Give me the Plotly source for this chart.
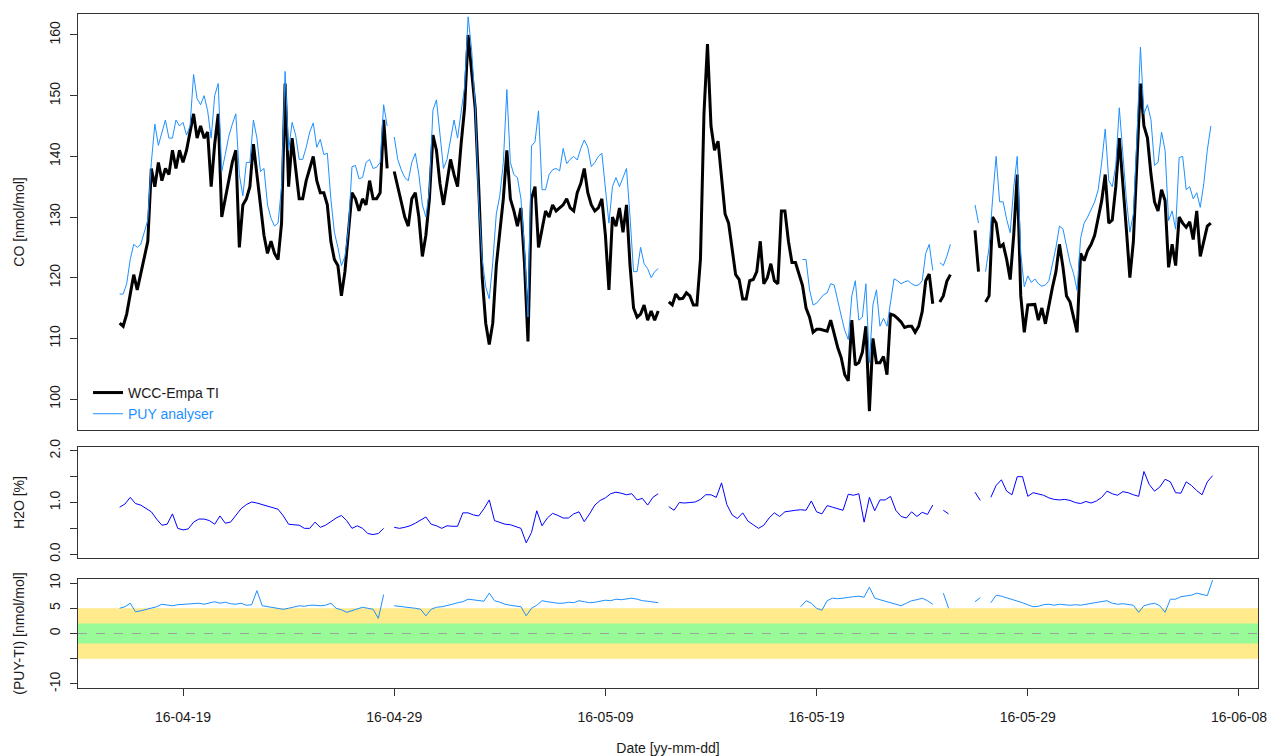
import pandas as pd
import plotly.graph_objects as go

# ---------------- data ----------------
series_start = "2016-04-16 00:00"

# CO, 4-hourly samples [nmol/mol]
co_wcc_ti = [
    112.5, 112, 114, 117.5, 120.5, 118,          # 04-16
    120.5, 123.5, 126, 138, 135, 139,            # 04-17
    136, 138, 137, 141, 138, 141,                # 04-18
    139, 141, 144, 147, 143, 145,                # 04-19
    143, 144, 135, 142, 147, 130,                # 04-20
    133, 136, 139, 141, 125, 132,                # 04-21
    133, 135, 142, 137, 132, 127,                # 04-22
    124, 126, 124, 123, 129, 152,                # 04-23
    135, 143, 138, 133, 133, 136,                # 04-24
    138, 140, 136, 134, 134, 132,                # 04-25
    126, 123, 122, 117, 121, 128,                # 04-26
    134, 133, 131, 133, 132, 136,                # 04-27
    133, 133, 134, 146, 138, None,               # 04-28
    137.5, 135, 132, 130, 128.5, 133,            # 04-29
    134, 130, 123.5, 127, 133, 143.5,            # 04-30
    141, 135.5, 132, 136, 139.5, 137,            # 05-01
    135, 142, 148, 160, 154, 148,                # 05-02
    135, 120, 112.5, 109, 112.5, 122,            # 05-03
    127.5, 133, 141, 133, 131, 128.5,            # 05-04
    131.5, 122.5, 109.5, 133, 135, 125,          # 05-05
    128, 131, 130, 132, 131, 131.5,              # 05-06
    132, 133, 131.5, 131, 134, 135.5,            # 05-07
    138, 134, 132, 131, 131.5, 133,              # 05-08
    127, 118, 130, 128.5, 131.5, 127.5,          # 05-09
    132, 122, 115, 113.5, 114, 115.5,            # 05-10
    113, 114.5, 113, 114.5, None, None,          # 05-11
    116, 115.5, 117.3, 116.5, 116.6, 117.5,      # 05-12
    117, 115.5, 115.5, 123, 147, 158.5,          # 05-13
    145, 141, 142.5, 136, 130.5, 129,            # 05-14
    125, 120.5, 119.7, 116.5, 116.5, 119.5,      # 05-15
    119.7, 121, 126, 119, 120, 122.3,            # 05-16
    119.5, 119, 131, 131, 126, 122.5,            # 05-17
    122.5, 120.7, 118.7, 115, 113.5, 111,        # 05-18
    111.5, 111.5, 111.3, 111.2, 113, 110.7,      # 05-19
    108.5, 106.8, 104, 103, 113, 105.6,          # 05-20
    106, 107.7, 112, 98, 110, 106,               # 05-21
    106, 107, 104, 114, 113.8, 113.3,            # 05-22
    112.7, 111.8, 112, 112, 111, 112,            # 05-23
    114.4, 119.5, 120.6, 115.7, None, 116,       # 05-24
    117, 119.4, 120.5, None, None, None,         # 05-25
    None, None, None, 127.8, 121, None,          # 05-26
    116, 117, 130, 129, 125, 125.5,              # 05-27
    123, 119.7, 127, 137, 117, 111,              # 05-28
    115.5, 115.5, 115.6, 113, 115, 112.4,        # 05-29
    115.6, 118.4, 121, 125.5, 121.7, 117,        # 05-30
    116, 113.5, 111, 124, 122.8, 124.5,          # 05-31
    125.5, 127, 130, 132.7, 137, 129,            # 06-01
    129.5, 135, 143, 136, 128, 120,              # 06-02
    126, 139, 152, 145, 143, 137,                # 06-03
    132.5, 131, 134.5, 132.7, 121.7, 125.5,      # 06-04
    122, 130, 129, 128.3, 129.2, 126.3,          # 06-05
    131, 123.5, 126.3, 128.5, 129,               # 06-06
]

co_puy = [
    117.3, 117.3, 119, 123, 125.5, 125,          # 04-16
    125.5, 127.5, 129.5, 139, 145.3, 141.8,      # 04-17
    144, 146, 143, 143, 146, 145,                # 04-18
    145.6, 143.5, 145, 153.5, 149.5, 148.5,      # 04-19
    150, 147.5, 143, 150, 152, 137.5,            # 04-20
    140.3, 143.3, 145.3, 147, 137, 133.5,        # 04-21
    139, 139, 146, 143, 137.5, 138,              # 04-22
    132, 129.8, 128.5, 129, 135, 154,            # 04-23
    141, 145.6, 143.5, 139.5, 139.5, 141.5,      # 04-24
    144, 145.5, 141.5, 142.8, 140.3, 140.5,      # 04-25
    133, 127.5, 125, 122, 123.5, 128,            # 04-26
    138.3, 138.5, 136.3, 136.5, 139, 139.5,      # 04-27
    138, 138.2, 139, 148.5, 145, None,           # 04-28
    143.2, 139.5, 137.8, 136.5, 136, 139,        # 04-29
    140.5, 137, 132, 130, 134.5, 147.6,          # 04-30
    149.3, 143, 138, 139.5, 142.5, 146,          # 05-01
    143, 147, 151.5, 163, 157.5, 148.5,          # 05-02
    132.5, 123, 118.5, 116.5, 122.5, 130.5,      # 05-03
    133.5, 139, 151, 139, 137, 136.5,            # 05-04
    133, 125, 113.5, 141.7, 142.4, 147.5,        # 05-05
    134.5, 134.5, 137, 137.8, 138, 137.6,        # 05-06
    141.3, 138.8, 139.5, 140, 139.4, 141.3,      # 05-07
    142.7, 141.5, 138.3, 139, 140, 140.5,        # 05-08
    135, 129, 135, 136.5, 135, 136.5,            # 05-09
    138, 130, 121, 121, 125, 122.3,              # 05-10
    121.5, 120, 121, 121.5, None, None,          # 05-11
    None, None, None, None, None, None,          # 05-12
    None, None, None, None, None, None,          # 05-13
    None, None, None, None, None, None,          # 05-14
    None, None, None, None, None, None,          # 05-15
    None, None, None, None, None, None,          # 05-16
    None, None, None, None, None, None,          # 05-17
    None, None, 123, 123, 118, 115.5,            # 05-18
    115.8, 116.5, 117.2, 117.5, 119, 118.8,      # 05-19
    116, 113.7, 111.3, 109.8, 117, 119.5,        # 05-20
    113, 113.5, 119, 106, 115.5, 118,            # 05-21
    112, 113.3, 112, 116, 119.8, 119.5,          # 05-22
    119, 119.3, 119.5, 119, 118.7, 118.8,        # 05-23
    119.5, 124, 125.5, 121.2, None, 122.5,       # 05-24
    122, 123.5, 125.5, None, None, None,         # 05-25
    None, None, None, 132, 129, None,            # 05-26
    121, 125, 133, 140, 132.5, 132.5,            # 05-27
    129.6, 127.4, 134.9, 140, 124, 118.5,        # 05-28
    120.3, 119.2, 119.8, 119, 118.6, 118.8,      # 05-29
    119.5, 122.3, 125, 128.5, 128, 125.2,        # 05-30
    122.5, 120.7, 117.9, 126.5, 129, 130,        # 05-31
    131.4, 132.5, 134.5, 139, 144.5, 136,        # 06-01
    135, 138.5, 148, 140, 133, 127.5,            # 06-02
    130.5, 143, 158, 147, 148.5, 146,            # 06-03
    138.5, 139, 144, 141, 129.4, 131,            # 06-04
    128, 139.8, 140, 134.5, 135, 133,            # 06-05
    134, 131.6, 135.5, 141, 145,                 # 06-06
]

# H2O, 6-hourly samples [%]
h2o_pct = [
    0.91, 0.97, 1.10, 0.98,   # 04-16
    0.95, 0.89, 0.82, 0.68,   # 04-17
    0.56, 0.58, 0.78, 0.50,   # 04-18
    0.47, 0.49, 0.62, 0.68,   # 04-19
    0.68, 0.65, 0.58, 0.74,   # 04-20
    0.60, 0.62, 0.74, 0.88,   # 04-21
    0.96, 1.01, 0.99, 0.96,   # 04-22
    0.94, 0.91, 0.87, 0.74,   # 04-23
    0.58, 0.57, 0.56, 0.50,   # 04-24
    0.50, 0.62, 0.52, 0.56,   # 04-25
    0.63, 0.70, 0.75, 0.65,   # 04-26
    0.50, 0.55, 0.50, 0.40,   # 04-27
    0.38, 0.40, 0.50, None,   # 04-28
    0.52, 0.50, 0.52, 0.55,   # 04-29
    0.60, 0.66, 0.72, 0.58,   # 04-30
    0.55, 0.50, 0.55, 0.54,   # 05-01
    0.54, 0.80, 0.80, 0.76,   # 05-02
    0.74, 0.88, 1.05, 0.65,   # 05-03
    0.61, 0.58, 0.57, 0.54,   # 05-04
    0.50, 0.22, 0.42, 0.84,   # 05-05
    0.55, 0.70, 0.79, 0.75,   # 05-06
    0.70, 0.70, 0.78, 0.82,   # 05-07
    0.63, 0.78, 0.95, 1.04,   # 05-08
    1.09, 1.17, 1.20, 1.18,   # 05-09
    1.15, 1.17, 1.05, 1.08,   # 05-10
    0.95, 1.10, 1.17, None,   # 05-11
    0.92, 0.85, 1.00, 0.99,   # 05-12
    1.00, 1.01, 1.06, 1.15,   # 05-13
    1.15, 1.10, 1.38, 0.96,   # 05-14
    0.76, 0.69, 0.80, 0.64,   # 05-15
    0.57, 0.50, 0.56, 0.70,   # 05-16
    0.80, 0.73, 0.82, 0.84,   # 05-17
    0.85, 0.86, 0.85, 1.03,   # 05-18
    0.82, 0.78, 0.94, 0.91,   # 05-19
    0.88, 0.85, 1.16, 1.14,   # 05-20
    1.17, 0.62, 1.10, 0.84,   # 05-21
    1.05, 1.05, 1.12, 0.85,   # 05-22
    0.73, 0.70, 0.82, 0.73,   # 05-23
    0.81, 0.77, 0.95, None,   # 05-24
    0.85, 0.78, None, None,   # 05-25
    None, None, 1.20, 1.04,   # 05-26
    None, 1.10, 1.33, 1.44,   # 05-27
    1.22, 1.15, 1.50, 1.50,   # 05-28
    1.12, 1.19, 1.16, 1.14,   # 05-29
    1.09, 1.06, 1.05, 1.06,   # 05-30
    1.04, 1.00, 0.98, 1.02,   # 05-31
    0.99, 1.03, 1.10, 1.22,   # 06-01
    1.17, 1.14, 1.21, 1.19,   # 06-02
    1.15, 1.12, 1.60, 1.35,   # 06-03
    1.22, 1.30, 1.45, 1.40,   # 06-04
    1.19, 1.18, 1.40, 1.33,   # 06-05
    1.23, 1.15, 1.40, 1.52,   # 06-06
]

# PUY - TI difference, 6-hourly samples [nmol/mol]
diff_puy_ti = [
    5.0, 5.3, 6.0, 4.3,   # 04-16
    4.5, 4.8, 5.0, 5.3,   # 04-17
    5.8, 5.6, 5.5, 5.7,   # 04-18
    5.8, 5.8, 5.9, 6.0,   # 04-19
    5.8, 6.0, 6.3, 6.0,   # 04-20
    6.2, 5.9, 5.8, 6.0,   # 04-21
    5.6, 5.7, 8.5, 5.5,   # 04-22
    5.3, 5.2, 5.0, 4.8,   # 04-23
    5.0, 5.3, 5.5, 5.4,   # 04-24
    5.6, 5.6, 5.5, 5.6,   # 04-25
    6.0, 5.0, 4.7, 4.2,   # 04-26
    4.5, 4.9, 5.2, 5.0,   # 04-27
    4.8, 3.0, 7.7, None,  # 04-28
    5.5, 5.4, 5.2, 5.1,   # 04-29
    5.0, 4.8, 3.5, 4.8,   # 04-30
    5.2, 5.3, 5.5, 5.8,   # 05-01
    6.1, 6.3, 6.8, 6.7,   # 05-02
    6.5, 6.4, 8.0, 6.5,   # 05-03
    6.2, 5.8, 5.6, 5.5,   # 05-04
    5.3, 3.5, 5.0, 5.6,   # 05-05
    6.5, 6.3, 6.1, 6.0,   # 05-06
    6.0, 6.2, 6.1, 6.5,   # 05-07
    6.3, 6.1, 6.2, 6.4,   # 05-08
    6.6, 6.5, 6.8, 6.7,   # 05-09
    6.9, 7.0, 6.8, 6.5,   # 05-10
    6.4, 6.3, 6.1, None,  # 05-11
    None, None, None, None,  # 05-12
    None, None, None, None,  # 05-13
    None, None, None, None,  # 05-14
    None, None, None, None,  # 05-15
    None, None, None, None,  # 05-16
    None, None, None, None,  # 05-17
    None, 5.3, 6.5, 6.0,  # 05-18
    5.0, 4.6, 6.5, 7.0,   # 05-19
    6.9, 7.0, 7.2, 7.3,   # 05-20
    7.4, 7.2, 9.2, 7.0,   # 05-21
    6.7, 6.4, 6.1, 5.8,   # 05-22
    5.5, 6.0, 6.5, 6.7,   # 05-23
    7.0, 6.5, 5.8, None,  # 05-24
    8.0, 5.0, None, None,  # 05-25
    None, None, 6.3, 7.1,  # 05-26
    None, 6.1, 7.6, 7.4,  # 05-27
    7.1, 6.8, 6.5, 6.1,   # 05-28
    5.7, 5.3, 5.4, 5.7,   # 05-29
    5.8, 5.6, 5.8, 5.7,   # 05-30
    5.6, 5.7, 5.6, 5.8,   # 05-31
    6.0, 6.2, 6.3, 6.5,   # 06-01
    6.0, 5.8, 5.9, 5.7,   # 06-02
    5.6, 4.2, 5.5, 5.8,   # 06-03
    6.0, 5.5, 4.2, 6.8,   # 06-04
    6.8, 7.3, 7.5, 7.6,   # 06-05
    8.0, 7.8, 7.5, 10.6,  # 06-06
]

co_ticks = [100, 110, 120, 130, 140, 150, 160]
h2o_ticks = [0.0, 0.5, 1.0, 1.5, 2.0]
h2o_tick_text = ["0.0", "", "1.0", "", "2.0"]
diff_ticks = [-10, -5, 0, 5, 10]
diff_tick_text = ["-10", "", "0", "5", "10"]
band_outer = 5   # +/- limit of yellow band
band_inner = 2   # +/- limit of green band

# ---------------- figure ----------------
t4 = pd.date_range(series_start, periods=len(co_wcc_ti), freq="4h")
t6 = pd.date_range(series_start, periods=len(h2o_pct), freq="6h")

FONT = "Liberation Sans, Arial, sans-serif"
TXT = "#1a1a1a"
XRANGE = ["2016-04-14 00:40", "2016-06-08 21:36"]

fig = go.Figure()
fig.add_trace(go.Scatter(x=t4, y=co_wcc_ti, mode="lines", name="WCC-Empa TI",
                         line=dict(color="black", width=3), xaxis="x", yaxis="y"))
fig.add_trace(go.Scatter(x=t4, y=co_puy, mode="lines",
                         name="<span style='color:#1E90FF'>PUY analyser</span>",
                         line=dict(color="#1E90FF", width=1), xaxis="x", yaxis="y"))
fig.add_trace(go.Scatter(x=t6, y=h2o_pct, mode="lines", showlegend=False,
                         line=dict(color="#0000FF", width=1), xaxis="x2", yaxis="y2"))
fig.add_trace(go.Scatter(x=t6, y=diff_puy_ti, mode="lines", showlegend=False,
                         line=dict(color="#1E90FF", width=1), xaxis="x3", yaxis="y3"))

frame = dict(showline=True, linecolor="#333333", linewidth=1, mirror=True,
             showgrid=False, zeroline=False, automargin=False)
xcommon = dict(type="date", range=XRANGE, **frame)
ycommon = dict(ticks="outside", ticklen=7, tickwidth=1, tickcolor="#333333",
               tickangle=-90, ticklabelstandoff=4,
               tickfont=dict(family=FONT, size=14, color=TXT), **frame)
ytitle_font = dict(family=FONT, size=14, color=TXT)

fig.update_layout(
    width=1270, height=756,
    margin=dict(l=78, r=12, t=14, b=68, autoexpand=False),
    paper_bgcolor="white", plot_bgcolor="white",
    font=dict(family=FONT, size=14, color=TXT),
    xaxis=dict(anchor="y", showticklabels=False, ticks="", **xcommon),
    xaxis2=dict(anchor="y2", matches="x", showticklabels=False, ticks="", **xcommon),
    xaxis3=dict(anchor="y3", matches="x", ticks="outside", ticklen=7, tickwidth=1,
                tickcolor="#333333", dtick=10 * 86400000, tick0="2016-04-19",
                tickformat="%y-%m-%d", ticklabelstandoff=9,
                tickfont=dict(family=FONT, size=14, color=TXT),
                title=dict(text="Date [yy-mm-dd]", standoff=22,
                           font=dict(family=FONT, size=14, color=TXT)),
                **xcommon),
    yaxis=dict(domain=[0.3828, 1.0], range=[94.9, 163.46], tickvals=co_ticks,
               title=dict(text="CO [nmol/mol]", standoff=19, font=ytitle_font), **ycommon),
    yaxis2=dict(domain=[0.1924, 0.3580], range=[-0.08, 2.08], tickvals=h2o_ticks,
                ticktext=h2o_tick_text,
                title=dict(text="H2O [%]", standoff=19, font=ytitle_font), **ycommon),
    yaxis3=dict(domain=[0.0, 0.1617], range=[-10.8, 10.8], tickvals=diff_ticks,
                ticktext=diff_tick_text,
                title=dict(text="(PUY-TI) [nmol/mol]", standoff=19, font=ytitle_font),
                **ycommon),
    legend=dict(x=0.0085, y=0.4615, xanchor="left", yanchor="top",
                bgcolor="rgba(0,0,0,0)", borderwidth=0,
                font=dict(family=FONT, size=14, color=TXT),
                tracegroupgap=0, itemwidth=30),
    shapes=[
        dict(type="rect", xref="x3 domain", yref="y3", x0=0, x1=1,
             y0=-band_outer, y1=band_outer, fillcolor="#FFEA8C", line=dict(width=0),
             layer="below"),
        dict(type="rect", xref="x3 domain", yref="y3", x0=0, x1=1,
             y0=-band_inner, y1=band_inner, fillcolor="#98FB98", line=dict(width=0),
             layer="below"),
        dict(type="line", xref="x3 domain", yref="y3", x0=0, x1=1, y0=0, y1=0,
             line=dict(color="#A0A0A0", width=1, dash="dash"), layer="below"),
    ],
)

fig.write_html("out.html")
